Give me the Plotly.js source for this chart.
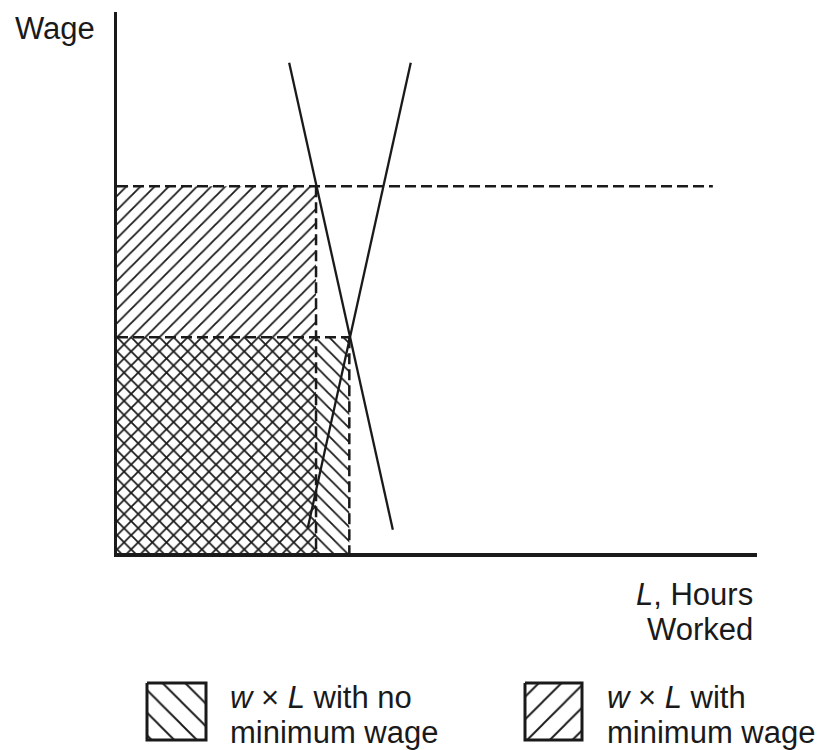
<!DOCTYPE html>
<html>
<head>
<meta charset="utf-8">
<script src="https://cdn.plot.ly/plotly-3.0.1.min.js"></script>
<style>html,body{margin:0;padding:0;background:#fff;}#chart{width:824px;height:750px;}</style>
</head>
<body>
<div id="chart"></div>
<script>
// ---- data (abstract units: hours worked L, wage w) ----
const demandL = [2.69, 4.31];
const demandW = [9.06, 0.43];
const supplyL = [4.59, 2.98];
const supplyW = [9.06, 0.46];
const minWage = 6.78;        // minimum wage level
const minWageL = 3.11;       // hours worked at minimum wage
const eqWage = 3.99;         // equilibrium wage (no minimum wage)
const eqL = 3.63;            // equilibrium hours
const minWageLineEnd = 9.31; // extent of the minimum-wage dashed line

// ---- text ----
const yTitle = "Wage";
const xTitle1 = "<i>L</i>, Hours";
const xTitle2 = "Worked";
const legend1 = ["<i>w</i> × <i>L</i> with no", "minimum wage"];
const legend2 = ["<i>w</i> × <i>L</i> with", "minimum wage"];

const ink = "#1a1a1a";
const font = {family: "Liberation Sans, Arial, sans-serif", size: 31, color: ink};

const traces = [
  // w x L with minimum wage (/ hatch)
  {x: [0, minWageL, minWageL, 0, 0], y: [0, 0, minWage, minWage, 0], mode: "lines",
   fill: "toself", fillcolor: "rgba(0,0,0,0)", line: {width: 0},
   fillpattern: {shape: "/", fgcolor: ink, size: 10, solidity: 0.18},
   xaxis: "x", yaxis: "y", hoverinfo: "skip", showlegend: false},
  // w x L with no minimum wage (\ hatch)
  {x: [0, eqL, eqL, 0, 0], y: [0, 0, eqWage, eqWage, 0], mode: "lines",
   fill: "toself", fillcolor: "rgba(0,0,0,0)", line: {width: 0},
   fillpattern: {shape: "\\", fgcolor: ink, size: 10, solidity: 0.18},
   xaxis: "x", yaxis: "y", hoverinfo: "skip", showlegend: false},
  // dashed guide lines
  {x: [0, minWageLineEnd, null, minWageL, minWageL, null, 0, eqL, null, eqL, eqL],
   y: [minWage, minWage, null, minWage, 0, null, eqWage, eqWage, null, eqWage, 0],
   mode: "lines", line: {color: ink, width: 2.5, dash: "11px,5px"}, connectgaps: false,
   xaxis: "x", yaxis: "y", hoverinfo: "skip", showlegend: false},
  // demand
  {x: demandL, y: demandW, mode: "lines", line: {color: ink, width: 2.3},
   xaxis: "x", yaxis: "y", hoverinfo: "skip", showlegend: false},
  // supply
  {x: supplyL, y: supplyW, mode: "lines", line: {color: ink, width: 2.3},
   xaxis: "x", yaxis: "y", hoverinfo: "skip", showlegend: false}
];

// legend swatches drawn in a pixel-space overlay subplot
const sw1 = {x0: 147, x1: 206, y0: 683, y1: 740};
const sw2 = {x0: 525, x1: 582, y0: 683, y1: 740};
function swatch(s, shape) {
  return {x: [s.x0, s.x1, s.x1, s.x0, s.x0], y: [s.y0, s.y0, s.y1, s.y1, s.y0],
    mode: "lines", fill: "toself", fillcolor: "rgba(0,0,0,0)",
    line: {color: ink, width: 3},
    fillpattern: {shape: shape, fgcolor: ink, size: 16, solidity: 0.12},
    xaxis: "x2", yaxis: "y2", hoverinfo: "skip", showlegend: false};
}
traces.push(swatch(sw1, "\\"));
traces.push(swatch(sw2, "/"));

function ann(text, x, y, xanchor) {
  return {text: text, x: x, y: y, xref: "x2", yref: "y2", xanchor: xanchor,
    yanchor: "middle", showarrow: false, font: font};
}

const layout = {
  width: 824, height: 750,
  margin: {l: 0, r: 0, t: 0, b: 0},
  paper_bgcolor: "#fff", plot_bgcolor: "rgba(0,0,0,0)",
  showlegend: false,
  xaxis: {domain: [117/824, 757/824], range: [0, 10], showline: true, linewidth: 3.5,
    linecolor: ink, showgrid: false, zeroline: false, showticklabels: false, ticks: "",
    anchor: "y", fixedrange: true},
  yaxis: {domain: [1 - 553/750, 1 - 12/750], range: [0, 10], showline: true, linewidth: 3.5,
    linecolor: ink, showgrid: false, zeroline: false, showticklabels: false, ticks: "",
    anchor: "x", fixedrange: true},
  xaxis2: {domain: [0, 1], range: [0, 824], visible: false, anchor: "y2", fixedrange: true},
  yaxis2: {domain: [0, 1], range: [750, 0], visible: false, anchor: "x2", fixedrange: true},
  annotations: [
    ann(yTitle, 13, 28, "left"),
    ann(xTitle1, 755, 594, "right"),
    ann(xTitle2, 755, 629, "right"),
    ann(legend1[0], 228, 697, "left"),
    ann(legend1[1], 228, 732, "left"),
    ann(legend2[0], 605, 697, "left"),
    ann(legend2[1], 605, 732, "left")
  ]
};

Plotly.newPlot("chart", traces, layout, {staticPlot: true, displayModeBar: false});
</script>
</body>
</html>
